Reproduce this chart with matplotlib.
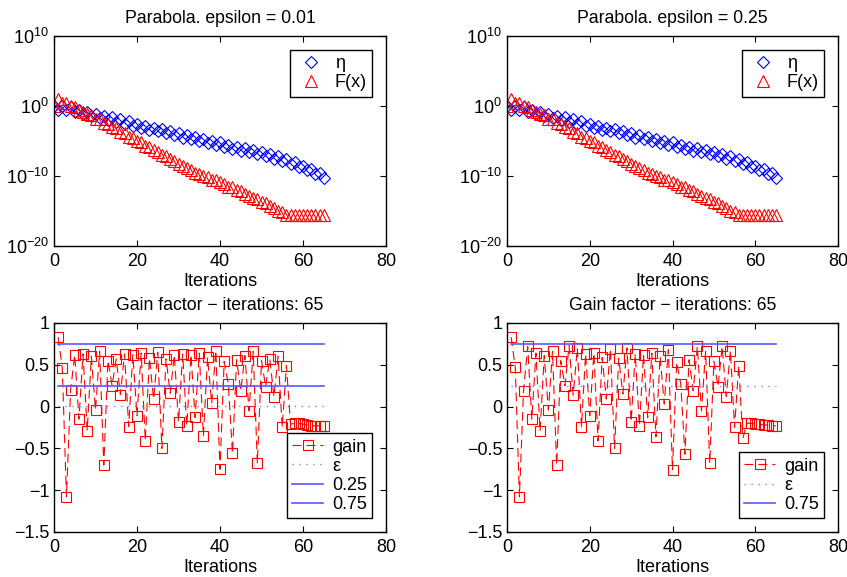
import numpy as np
import matplotlib
matplotlib.use("Agg")
import matplotlib.pyplot as plt
from matplotlib.ticker import FixedLocator, FuncFormatter, NullLocator

plt.rcParams['font.family'] = ['Liberation Sans', 'DejaVu Sans']
plt.rcParams['font.size'] = 13
plt.rcParams['mathtext.fontset'] = 'custom'
plt.rcParams['mathtext.rm'] = 'Liberation Sans'
plt.rcParams['mathtext.it'] = 'Liberation Sans:italic'
plt.rcParams['mathtext.default'] = 'regular'

# --- datos ---
# iteraciones 0..65, valores en log10
it_top = np.arange(0, 66)
eta_log10 = [0.0, -0.5, 0.0, -0.6, -0.2, -0.8, -0.5, -1.1, -0.8, -1.4,
             -1.1, -1.7, -1.4, -2.0, -1.6, -2.3, -1.9, -2.6, -2.2, -2.8,
             -2.5, -3.1, -2.8, -3.4, -3.1, -3.6, -3.3, -3.9, -3.6, -4.2,
             -3.9, -4.5, -4.2, -4.7, -4.4, -5.0, -4.7, -5.3, -5.0, -5.6,
             -5.2, -5.8, -5.5, -6.1, -5.8, -6.4, -6.0, -6.6, -6.3, -6.9,
             -6.6, -7.2, -6.9, -7.5, -7.2, -7.9, -7.6, -8.3, -8.0, -8.7,
             -8.5, -9.2, -9.0, -9.7, -9.6, -10.3]
fx_log10 = [0.0, 1.0, 0.5, 0.5, 0.0, -0.1, -0.6, -0.8, -1.2, -1.3,
            -1.8, -1.9, -2.4, -2.5, -3.0, -3.2, -3.7, -3.9, -4.4, -4.6,
            -5.0, -5.2, -5.7, -5.9, -6.3, -6.5, -7.0, -7.2, -7.6, -7.8,
            -8.3, -8.5, -8.9, -9.1, -9.5, -9.7, -10.0, -10.2, -10.5, -10.6,
            -10.9, -11.1, -11.5, -11.6, -12.0, -12.2, -12.6, -12.8, -13.2, -13.3,
            -13.7, -13.9, -14.3, -14.5, -15.0, -15.2, -15.6, -15.6, -15.6, -15.6,
            -15.6, -15.6, -15.6, -15.6, -15.6, -15.6]

# factor de ganancia, iteraciones 1..65
it_gain = np.arange(1, 66)
gain_001 = [0.83, 0.46, -1.08, 0.20, 0.62, -0.15, 0.63, -0.29, 0.60, -0.04,
            0.66, -0.70, 0.55, 0.25, 0.57, 0.14, 0.63, -0.24, 0.62, -0.11,
            0.64, -0.41, 0.58, 0.09, 0.65, -0.50, 0.57, 0.16, 0.62, -0.18,
            0.63, -0.23, 0.62, -0.13, 0.64, -0.35, 0.59, 0.04, 0.67, -0.75,
            0.54, 0.27, -0.56, 0.56, 0.19, 0.61, -0.05, 0.66, -0.68, 0.55,
            0.24, 0.57, 0.12, 0.60, -0.25, 0.49, -0.21, -0.20, -0.20, -0.21,
            -0.22, -0.23, -0.23, -0.23, -0.23]
gain_025 = [0.83, 0.47, -1.08, 0.19, 0.72, -0.15, 0.64, -0.29, 0.61, -0.04,
            0.66, -0.70, 0.55, 0.25, 0.73, 0.14, 0.70, -0.24, 0.63, -0.11,
            0.64, -0.41, 0.59, 0.09, 0.69, -0.50, 0.58, 0.15, 0.70, -0.18,
            0.63, -0.23, 0.62, -0.13, 0.64, -0.36, 0.60, 0.03, 0.68, -0.76,
            0.53, 0.27, -0.57, 0.56, 0.19, 0.72, -0.05, 0.66, -0.68, 0.54,
            0.24, 0.72, 0.12, 0.67, -0.25, 0.49, -0.38, -0.20, -0.20, -0.21,
            -0.21, -0.22, -0.22, -0.23, -0.23]

epsilons = [0.01, 0.25]

hcol = (0.35, 0.35, 1.0)
ecol = (0.5, 0.5, 1.0)


def style_axes(ax):
    ax.set_xlim(0, 80)
    ax.xaxis.set_major_locator(FixedLocator([0, 20, 40, 60, 80]))
    ax.tick_params(direction='in', top=True, right=True, length=4, width=0.8)
    ax.tick_params(axis='x', pad=5)
    ax.tick_params(axis='y', pad=3.5)
    for s in ax.spines.values():
        s.set_linewidth(1.0)
    ax.set_xlabel('Iterations', labelpad=2)


def legend(ax, loc):
    leg = ax.legend(loc=loc, fancybox=False, edgecolor='k', framealpha=1,
                    borderaxespad=0.75, handlelength=1.7, numpoints=1,
                    borderpad=0.3, labelspacing=0.12, handletextpad=0.5)
    leg.get_frame().set_linewidth(1.0)


def top_panel(ax, eps):
    ax.semilogy(it_top, 10.0 ** np.array(eta_log10), 'D', color='b',
                mfc='none', ms=6.2, mew=0.8, label='η')
    ax.semilogy(it_top, 10.0 ** np.array(fx_log10), '^', color='r',
                mfc='none', ms=8.5, mew=0.8, label='F(x)')
    ax.set_ylim(1e-20, 1e10)
    ax.yaxis.set_major_locator(FixedLocator([1e-20, 1e-10, 1e0, 1e10]))
    ax.yaxis.set_minor_locator(NullLocator())
    ax.yaxis.set_major_formatter(
        FuncFormatter(lambda v, p: r'$10^{%d}$' % int(round(np.log10(v)))))
    ax.set_title('Parabola. epsilon = %g' % eps, pad=9.5, fontsize=12.7)
    style_axes(ax)
    legend(ax, 'upper right')


def gain_panel(ax, gain, eps):
    ax.plot(it_gain, gain, color='r', ls=(0, (8, 4.5)), lw=0.8, marker='s',
            mfc='none', ms=7, mew=0.8, label='gain')
    ax.plot([it_gain[0], it_gain[-1]], [eps, eps], ls=(0, (1, 4)), lw=1.0,
            color=ecol, label='ε')
    for h in [0.25, 0.75]:
        if h != eps:
            ax.plot([it_gain[0], it_gain[-1]], [h, h], color=hcol, lw=1.2,
                    label='%g' % h)
    ax.set_ylim(-1.5, 1)
    ax.yaxis.set_major_locator(FixedLocator([-1.5, -1, -0.5, 0, 0.5, 1]))
    ax.yaxis.set_major_formatter(
        FuncFormatter(lambda v, p: ('%g' % v).replace('-', '\u2212')))
    ax.set_title('Gain factor \u2212 iterations: %d' % len(gain), pad=9.5,
                 fontsize=12.7)
    style_axes(ax)
    legend(ax, 'lower right')


fig = plt.figure(figsize=(8.47, 5.77), dpi=100)
W, H = 847.0, 577.0
ax1 = fig.add_axes([54 / W, 1 - 246 / H, 332 / W, 210 / H])
ax2 = fig.add_axes([507 / W, 1 - 246 / H, 331 / W, 210 / H])
ax3 = fig.add_axes([54 / W, 1 - 532 / H, 332 / W, 209 / H])
ax4 = fig.add_axes([507 / W, 1 - 532 / H, 331 / W, 209 / H])

top_panel(ax1, epsilons[0])
top_panel(ax2, epsilons[1])
gain_panel(ax3, gain_001, epsilons[0])
gain_panel(ax4, gain_025, epsilons[1])

fig.savefig('out.png', dpi=100)
